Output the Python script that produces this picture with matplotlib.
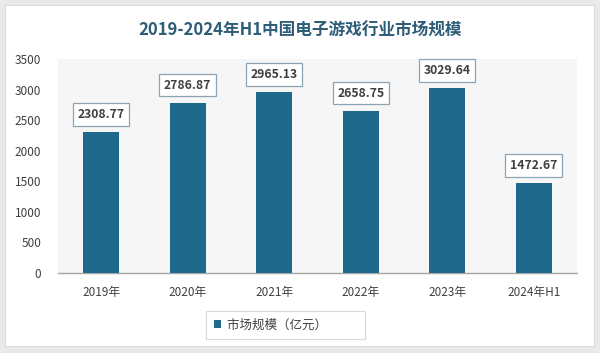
import matplotlib.pyplot as plt
from matplotlib.patches import Rectangle
import numpy as np

plt.rcParams['font.family'] = ['Noto Sans CJK SC', 'DejaVu Sans']

years = ['2019年', '2020年', '2021年', '2022年', '2023年', '2024年H1']
market_size = [2308.77, 2786.87, 2965.13, 2658.75, 3029.64, 1472.67]
yticks = [0, 500, 1000, 1500, 2000, 2500, 3000, 3500]

bar_color = '#1d6a8c'
text_color = '#404040'

fig = plt.figure(figsize=(6, 3.53), dpi=100)
fig.patch.set_facecolor('#e9e9e9')

# белая карточка
card = Rectangle((0.008, 0.02), 0.982, 0.965, transform=fig.transFigure,
                 facecolor='white', edgecolor='#dddddd', linewidth=0.8, zorder=-10)
fig.patches.append(card)

ax = fig.add_axes([0.0967, 0.2266, 0.865, 0.606])
ax.set_facecolor('#f6f6f6')

x = np.arange(len(years))
bars = ax.bar(x, market_size, width=0.42, color=bar_color, label='市场规模（亿元）', zorder=3)

for xi, v in zip(x, market_size):
    ax.annotate(f'{v:.2f}', (xi, v), xytext=(0, 12.5), textcoords='offset points',
                ha='center', va='center', fontsize=8.8, fontweight='bold', color=text_color,
                bbox=dict(boxstyle='square,pad=0.38', facecolor='white',
                          edgecolor='#8aa4b4', linewidth=0.9))

ax.set_xlim(-0.5, len(years) - 0.5)
ax.set_ylim(0, 3500)
ax.set_yticks(yticks)
ax.set_xticks(x)
ax.set_xticklabels(years)
ax.tick_params(axis='both', length=0, labelsize=8.5, labelcolor=text_color)
ax.tick_params(axis='x', pad=9)
ax.tick_params(axis='y', pad=12)

for s in ['top', 'right', 'left']:
    ax.spines[s].set_visible(False)
ax.spines['bottom'].set_color('#a6a6a6')
ax.spines['bottom'].set_linewidth(1)

fig.text(0.5, 0.912, '2019-2024年H1中国电子游戏行业市场规模', ha='center', va='center',
         fontsize=12, fontweight='bold', color='#2e5d78')

leg = fig.legend(handles=[bars], labels=['市场规模（亿元）'], loc='center',
                 bbox_to_anchor=(0.476, 0.08), fontsize=9, frameon=True,
                 fancybox=False, handlelength=0.6, handleheight=0.6,
                 borderpad=0.6, handletextpad=0.5, borderaxespad=0)
leg.get_frame().set_edgecolor('#d0d0d0')
leg.get_frame().set_linewidth(0.8)
for t in leg.get_texts():
    t.set_color(text_color)
    t.set_text('市场规模（亿元）           ')

fig.savefig('out.png', dpi=100, facecolor=fig.get_facecolor())
